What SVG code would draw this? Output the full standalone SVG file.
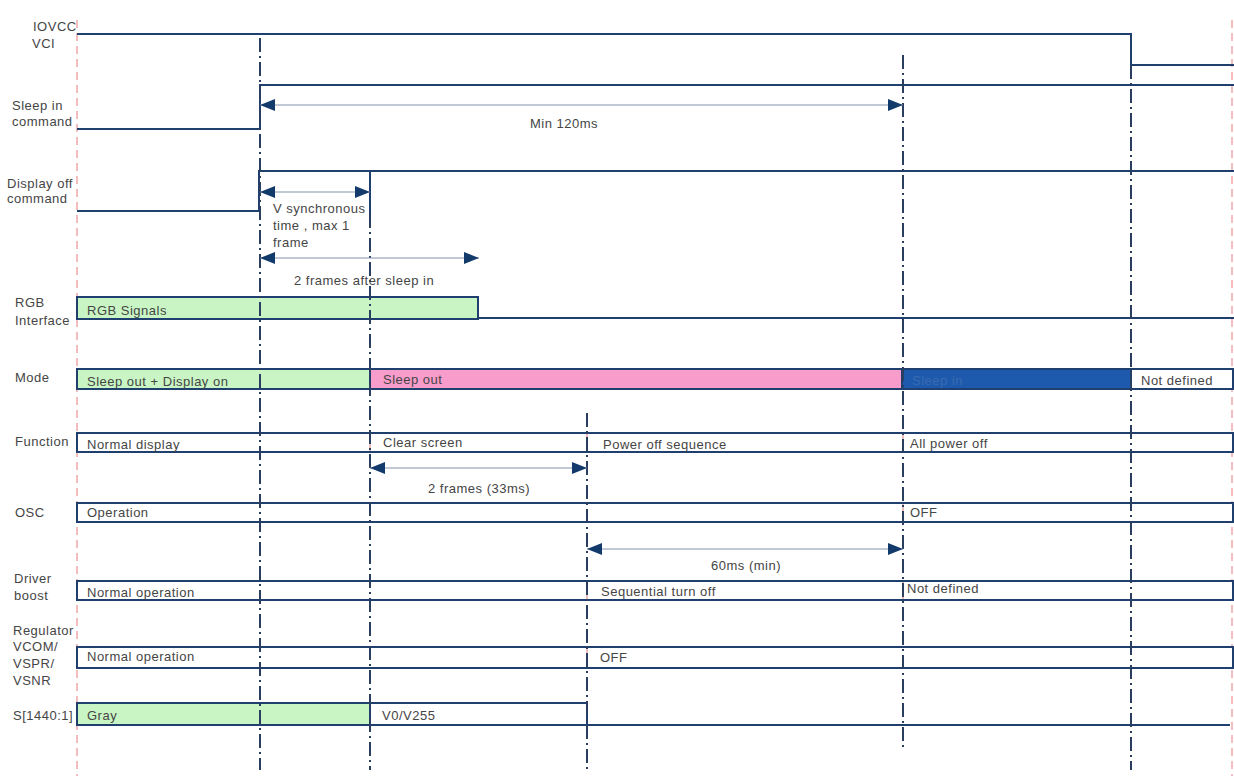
<svg xmlns="http://www.w3.org/2000/svg" width="1234" height="776" viewBox="0 0 1234 776">
<defs>
<style>
text{font-family:"Liberation Sans",Arial,sans-serif;font-size:13px;letter-spacing:0.5px;fill:#454545}
.sig{fill:none;stroke:#1f3f6e;stroke-width:2}
.box{stroke:#1f3f6e;stroke-width:2}
.div{stroke:#e8a8a8;stroke-width:1.5}
.vline{stroke:#2a3f5f;stroke-width:2;stroke-dasharray:14 4 2 4;fill:none}
.pink{stroke:#f0a8a8;stroke-width:1.5;stroke-dasharray:8 5;fill:none}
.arr{stroke:#8394ad;stroke-width:1.2;fill:none;marker-start:url(#ah);marker-end:url(#ah)}
</style>
<marker id="ah" markerUnits="userSpaceOnUse" markerWidth="16" markerHeight="14" refX="15" refY="7" orient="auto-start-reverse">
<path d="M0,1 L15,7 L0,13 Z" fill="#123a6b"/>
</marker>
</defs>
<rect width="1234" height="776" fill="#fff"/>

<g id="guides">
<line class="pink" x1="77" y1="20" x2="77" y2="776"/>
<line class="pink" x1="1232" y1="20" x2="1232" y2="776"/>
</g>

<g id="row-iovcc">
<text x="33" y="31">IOVCC</text>
<text x="32" y="48">VCI</text>
<path class="sig" d="M77,34 H1131 V65 H1234"/>
</g>

<g id="row-sleepin">
<text x="12" y="110">Sleep in</text>
<text x="12" y="126">command</text>
<path class="sig" d="M77,129 H260 V85 H1234"/>
</g>

<g id="row-dispoff">
<text x="7" y="188">Display off</text>
<text x="7" y="203">command</text>
<path class="sig" d="M77,211 H259 V171 H1234"/>
<line class="sig" x1="370" y1="171" x2="370" y2="214"/>
</g>

<g id="row-rgb">
<text x="15" y="307">RGB</text>
<text x="15" y="325">Interface</text>
<rect class="box" x="77" y="297" width="401" height="22" fill="#c9f5c4"/>
<line class="sig" x1="478" y1="318" x2="1234" y2="318"/>
<text x="87" y="315">RGB Signals</text>
</g>

<g id="row-mode">
<text x="15" y="382">Mode</text>
<rect class="box" x="77" y="369" width="293" height="20" fill="#c9f5c4"/>
<rect class="box" x="370" y="369" width="532" height="20" fill="#f79ccb"/>
<rect class="box" x="902" y="369" width="229" height="20" fill="#1d5aad"/>
<rect class="box" x="1131" y="369" width="102" height="20" fill="#fff"/>
<text x="87" y="386">Sleep out + Display on</text>
<text x="383" y="384">Sleep out</text>
<text x="912" y="385" style="fill:#3a6ab0">Sleep in</text>
<text x="1141" y="385">Not defined</text>
</g>

<g id="row-function">
<text x="15" y="446">Function</text>
<rect class="box" x="77" y="433" width="1156" height="19" fill="#fff"/>
<line class="div" x1="370" y1="434" x2="370" y2="451"/>
<line class="div" x1="587" y1="434" x2="587" y2="451"/>
<line class="div" x1="903" y1="434" x2="903" y2="451"/>
<text x="87" y="449">Normal display</text>
<text x="383" y="447">Clear screen</text>
<text x="603" y="449">Power off sequence</text>
<text x="910" y="448">All power off</text>
</g>

<g id="row-osc">
<text x="15" y="517">OSC</text>
<rect class="box" x="77" y="503" width="1156" height="19" fill="#fff"/>
<line class="div" x1="903" y1="504" x2="903" y2="521"/>
<text x="87" y="517">Operation</text>
<text x="910" y="517">OFF</text>
</g>

<g id="row-driver">
<text x="14" y="583">Driver</text>
<text x="14" y="600">boost</text>
<rect class="box" x="77" y="581" width="1156" height="19" fill="#fff"/>
<line class="div" x1="587" y1="582" x2="587" y2="599"/>
<line class="div" x1="903" y1="582" x2="903" y2="599"/>
<text x="87" y="597">Normal operation</text>
<text x="601" y="596">Sequential turn off</text>
<text x="907" y="593">Not defined</text>
</g>

<g id="row-regulator">
<text x="13" y="635">Regulator</text>
<text x="13" y="651">VCOM/</text>
<text x="13" y="668">VSPR/</text>
<text x="13" y="685">VSNR</text>
<rect class="box" x="77" y="647" width="1156" height="21" fill="#fff"/>
<line class="div" x1="587" y1="648" x2="587" y2="667"/>
<text x="87" y="661">Normal operation</text>
<text x="600" y="662">OFF</text>
</g>

<g id="row-s">
<text x="13" y="720">S[1440:1]</text>
<rect class="box" x="77" y="703" width="293" height="22" fill="#c9f5c4"/>
<rect class="box" x="370" y="703" width="217" height="22" fill="#fff"/>
<line class="sig" x1="587" y1="725" x2="1230" y2="725"/>
<text x="87" y="720">Gray</text>
<text x="382" y="720">V0/V255</text>
</g>

<g id="connectors">
<line class="vline" x1="260" y1="38" x2="260" y2="770"/>
<line class="vline" x1="370" y1="214" x2="370" y2="770"/>
<line class="vline" x1="587" y1="413" x2="587" y2="770"/>
<line class="vline" x1="903" y1="55" x2="903" y2="750"/>
<line class="vline" x1="1131" y1="65" x2="1131" y2="770"/>
<line class="arr" x1="260" y1="105" x2="903" y2="105"/>
<line class="arr" x1="260" y1="192" x2="370" y2="192"/>
<line class="arr" x1="260" y1="258" x2="479" y2="258"/>
<line class="arr" x1="370" y1="468" x2="587" y2="468"/>
<line class="arr" x1="587" y1="549" x2="903" y2="549"/>
</g>

<g id="labels">
<text x="530" y="128">Min 120ms</text>
<text x="273" y="213">V synchronous</text>
<text x="273" y="230">time , max 1</text>
<text x="273" y="247">frame</text>
<text x="294" y="285">2 frames after sleep in</text>
<text x="428" y="493">2 frames (33ms)</text>
<text x="711" y="570">60ms (min)</text>
</g>
</svg>
